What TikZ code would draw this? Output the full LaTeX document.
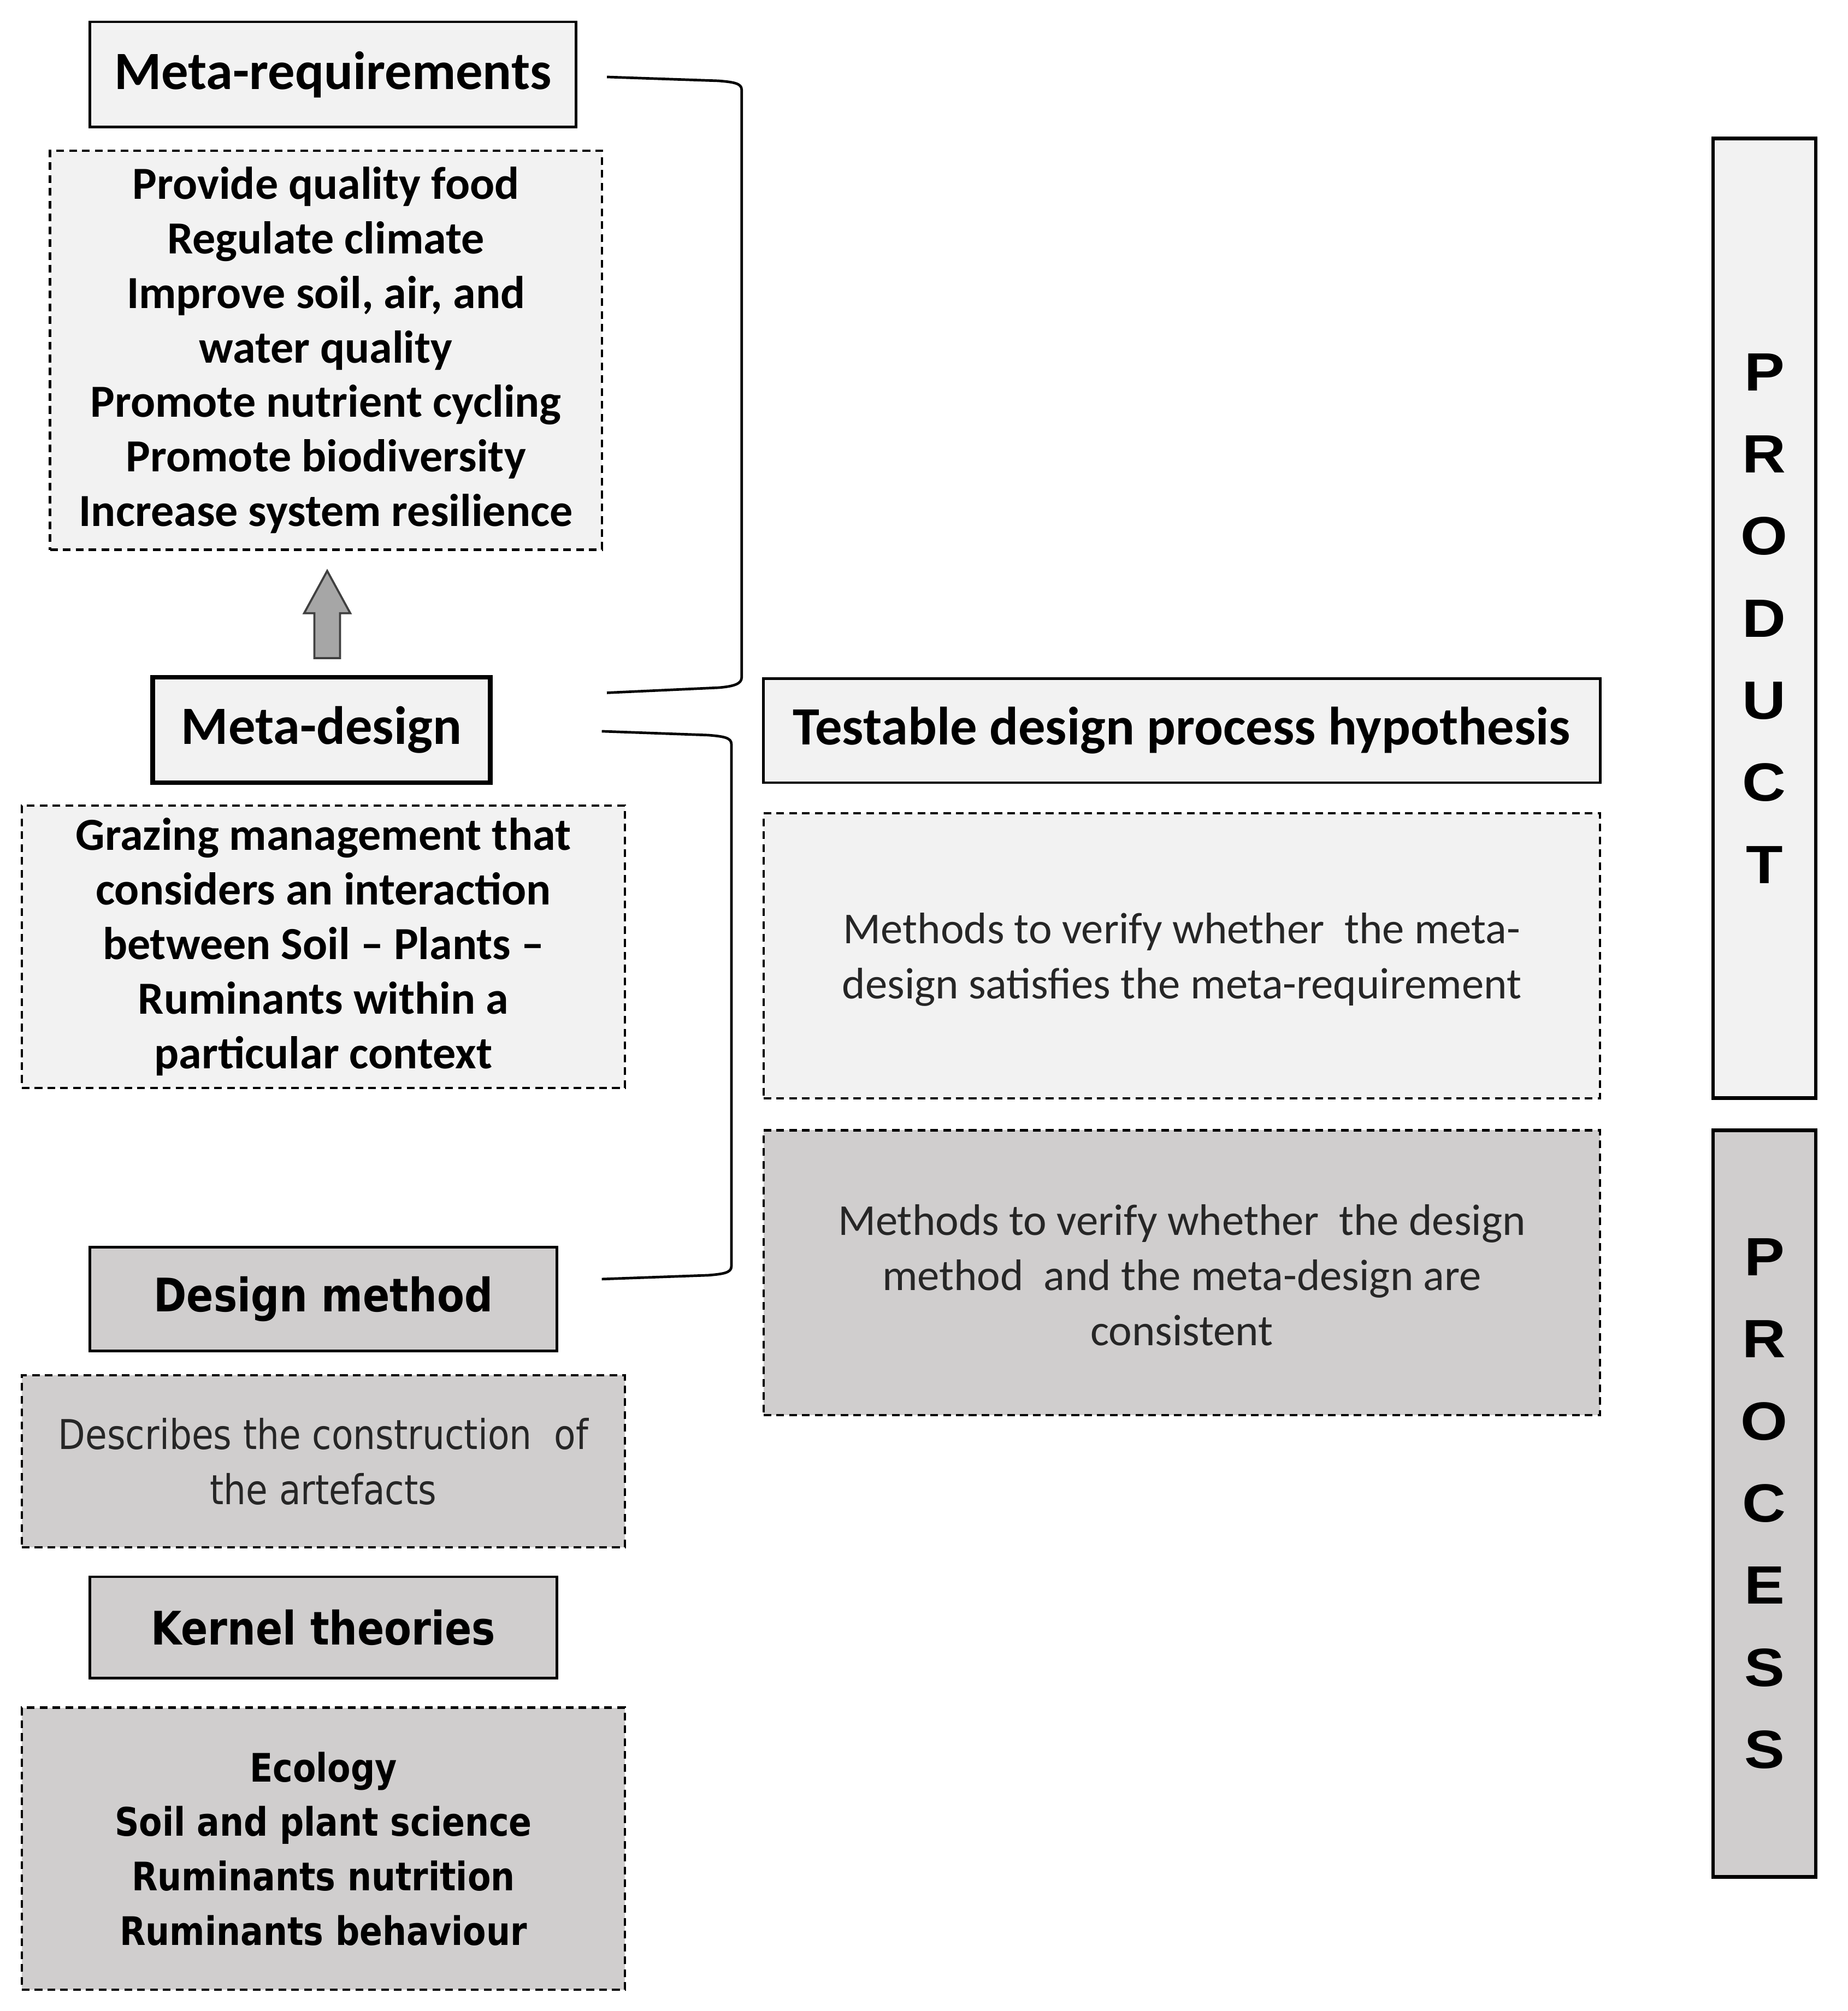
\documentclass[tikz,border=0pt]{standalone}
\usepackage{fontspec}
\setmainfont{Carlito}
\newfontfamily\tahfont[FakeStretch=0.86]{DejaVu Sans}
\newfontfamily\blkfont[FakeStretch=1.12]{Liberation Sans}
\definecolor{lightfill}{HTML}{F2F2F2}
\definecolor{grayfill}{HTML}{D0CECE}
\definecolor{arrowfill}{HTML}{A6A6A6}
\tikzset{
  solidbox/.style={draw=black, line width=1pt, inner sep=0pt, align=center},
  dashbox/.style={draw=black, line width=0.9pt, dash pattern=on 3pt off 2pt, inner sep=0pt, align=center},
  headfont/.style={font=\bfseries\fontsize{21}{24}\selectfont},
  listfont/.style={font=\bfseries\fontsize{17.9}{21.25}\selectfont},
  methfont/.style={font=\fontsize{17.2}{21.5}\selectfont, text=black!85},
  tahhead/.style={font=\tahfont\bfseries\fontsize{18}{22}\selectfont},
  tahlist/.style={font=\tahfont\bfseries\fontsize{15.3}{21.2}\selectfont},
  tahtext/.style={font=\tahfont\fontsize{16}{21.5}\selectfont, text=black!85},
  vertfont/.style={font=\blkfont\bfseries\fontsize{21}{32}\selectfont},
  bracketline/.style={draw=black, line width=1pt},
  blockarrow/.style={draw=black!75, line width=0.8pt, fill=arrowfill},
}
\begin{document}
\begin{tikzpicture}[x=0.5pt,y=-0.5pt]
\useasboundingbox (0,0) rectangle (1440,1567.5);

% left column
\node[solidbox, fill=lightfill, minimum width=189.5pt, minimum height=41pt, headfont] (mr) at (259.5,58) {Meta-requirements};
\node[dashbox, fill=lightfill, minimum width=215pt, minimum height=155.5pt, listfont] (mrl) at (254,273)
  {Provide quality food\\Regulate climate\\Improve soil, air, and\\water quality\\Promote nutrient cycling\\Promote biodiversity\\Increase system resilience};

\node[solidbox, line width=1.8pt, fill=lightfill, minimum width=131.5pt, minimum height=41pt, headfont] (md) at (250.5,569) {Meta-design};
\node[dashbox, fill=lightfill, minimum width=235pt, minimum height=110pt, listfont] (mdl) at (252,738)
  {Grazing management that\\considers an interaction\\between Soil -- Plants --\\Ruminants within a\\particular context};

\node[solidbox, fill=grayfill, minimum width=182pt, minimum height=40.5pt, tahhead] (dm) at (252,1012.5) {Design method};
\node[dashbox, fill=grayfill, minimum width=235pt, minimum height=67pt, tahtext] (dml) at (252,1139)
  {Describes the construction\ \ of\\the artefacts};

\node[solidbox, fill=grayfill, minimum width=182pt, minimum height=39.5pt, tahhead] (kt) at (252,1268.5) {Kernel theories};
\node[dashbox, fill=grayfill, minimum width=235pt, minimum height=110pt, tahlist] (ktl) at (252,1441)
  {Ecology\\Soil and plant science\\Ruminants nutrition\\Ruminants behaviour};

% block arrow from meta-design up to the requirement list
\draw[blockarrow] (245,513) -- (245,478) -- (237,478) -- (255,445) -- (273,478) -- (265,478) -- (265,513) -- cycle;

% middle column
\node[solidbox, fill=lightfill, minimum width=326pt, minimum height=40.5pt, headfont] (tdp) at (921,569.5) {Testable design process hypothesis};
\node[dashbox, fill=lightfill, minimum width=326pt, minimum height=111pt, methfont] (m1) at (921,745) {};
\node[methfont, align=center, inner sep=0pt] (m1t) at (921,748)
  {Methods to verify whether\ \ the meta-\\design satisfies the meta-requirement};
\node[dashbox, fill=grayfill, minimum width=326pt, minimum height=111pt, methfont] (m2) at (921,992) {};
\node[methfont, align=center, inner sep=0pt] (m2t) at (921,994)
  {Methods to verify whether\ \ the design\\method\ \ and the meta-design are\\consistent};

% right column
\node[solidbox, line width=1.4pt, fill=lightfill, minimum width=40pt, minimum height=374pt, vertfont] (prod) at (1375,482)
  {P\\R\\O\\D\\U\\C\\T};
\node[solidbox, line width=1.4pt, fill=grayfill, minimum width=40pt, minimum height=291pt, vertfont] (proc) at (1375,1172)
  {P\\R\\O\\C\\E\\S\\S};

% brackets
\coordinate (b1s) at (473,60);
\coordinate (b1e) at (473,540);
\coordinate (b2s) at (469,570);
\coordinate (b2e) at (469,997);
\draw[bracketline] (b1s) -- (560,63) .. controls (572,64) and (578,65) .. (578,70) -- (578,528) .. controls (578,533) and (572,535) .. (560,536) -- (b1e);
\draw[bracketline] (b2s) -- (552,573) .. controls (564,574) and (570,575) .. (570,580) -- (570,987) .. controls (570,992) and (564,993) .. (552,994) -- (b2e);
\end{tikzpicture}
\end{document}
